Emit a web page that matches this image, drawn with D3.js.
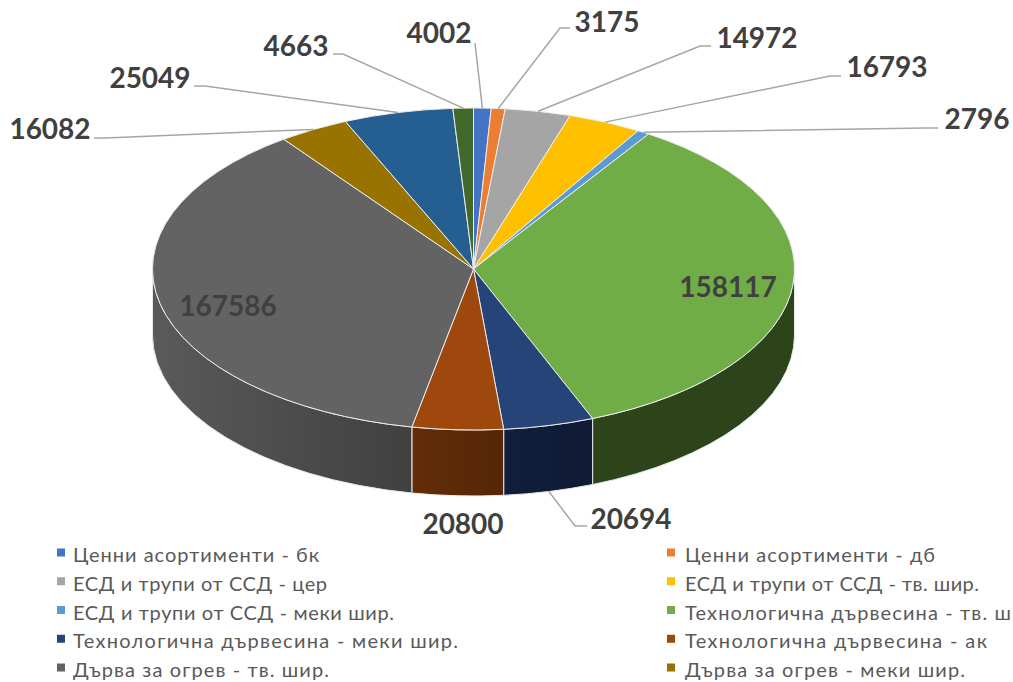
<!DOCTYPE html>
<html>
<head>
<meta charset="utf-8">
<script src="https://cdn.jsdelivr.net/npm/d3@7"></script>
<style>
html, body { margin: 0; padding: 0; background: #fff; overflow: hidden; }
text { font-family: Lato, "Open Sans", sans-serif; }
</style>
</head>
<body>
<div id="chart"></div>
<script>
// values in clockwise order starting from 12 o'clock
var values = [4002, 3175, 14972, 16793, 2796, 158117, 20694, 20800, 167586, 16082, 25049, 4663];

var legendNames = [
	"Ценни асортименти - бк", "Ценни асортименти - дб",
	"ЕСД и трупи от ССД - цер", "ЕСД и трупи от ССД - тв. шир.",
	"ЕСД и трупи от ССД - меки шир.", "Технологична дървесина - тв. ш",
	"Технологична дървесина - меки шир.", "Технологична дървесина - ак",
	"Дърва за огрев - тв. шир.", "Дърва за огрев - меки шир."
];

var topColors = ["#4472C4", "#ED7D31", "#A5A5A5", "#FFC000", "#5B9BD5", "#70AD47",
	"#264478", "#9E480E", "#636363", "#997300", "#255E91", "#43682B"];

// side wall colours, left and right end of the gradient
var sideColors = [
	["#2a4578", "#2a4578"], ["#8a4a1c", "#8a4a1c"], ["#636363", "#636363"], ["#957000", "#957000"],
	["#365d80", "#365d80"], ["#2d451a", "#2d431a"], ["#101f3c", "#0f1a34"], ["#622d08", "#562606"],
	["#5a5a5a", "#404040"], ["#5c4500", "#5c4500"], ["#163955", "#163955"], ["#283f1a", "#283f1a"]
];

// label placement: text centre, then the elbow and end of the leader line
var labelLayout = [
	{x: 439, y: 33, end: [475, 43]},
	{x: 607, y: 22, elbow: [560, 28], end: [570, 28]},
	{x: 757, y: 38, elbow: [700, 46], end: [711, 46]},
	{x: 887, y: 67, elbow: [830, 76], end: [841, 76]},
	{x: 977, y: 119, elbow: [925, 128], end: [938, 128]},
	{x: 728, y: 287},
	{x: 631, y: 519, elbow: [575, 526], end: [587, 526], wall: true},
	{x: 463, y: 524},
	{x: 228, y: 306},
	{x: 50, y: 129, elbow: [105, 138], end: [94, 138]},
	{x: 150, y: 78, elbow: [205, 86], end: [194, 86]},
	{x: 296, y: 46, elbow: [343, 54], end: [333, 54]}
];

// legend text is spaced out to these pixel widths
var legendWidths = [246, 250, 254, 294, 321, 326, 385, 302, 256, 280];

var cfg = {
	w: 1013, h: 682,
	cx: 473.5, cy: 269,
	rx: 321, ry: 161,
	depth: 66,
	labelSize: 28,
	legendSize: 20
};
var tilt = cfg.ry / cfg.rx;

var svg = d3.select("#chart").append("svg")
	.attr("width", cfg.w)
	.attr("height", cfg.h);

var defs = svg.append("defs");

var pie = d3.pie().sort(null).value(function(d) { return d; }).startAngle(0).endAngle(Math.PI * 2);
var slices = pie(values);

var arc = d3.arc().innerRadius(0).outerRadius(cfg.rx);

// pie is drawn as a circle and squashed into an ellipse
var g = svg.append("g")
	.attr("transform", "translate(" + cfg.cx + "," + cfg.cy + ") scale(1," + tilt + ")");

//Side walls, only the front half of the disc shows
function wallPath(d) {
	var a0 = Math.max(d.startAngle, Math.PI / 2) - Math.PI / 2;
	var a1 = Math.min(d.endAngle, Math.PI * 1.5) - Math.PI / 2;
	if (a1 <= a0) return null;
	var dy = cfg.depth / tilt;
	var p = d3.path();
	p.arc(0, 0, cfg.rx, a0, a1);
	p.lineTo(cfg.rx * Math.cos(a1), cfg.rx * Math.sin(a1) + dy);
	p.arc(0, dy, cfg.rx, a1, a0, true);
	p.closePath();
	return p.toString();
}

slices.forEach(function(d, i) {
	var grad = defs.append("linearGradient").attr("id", "wall" + i);
	grad.append("stop").attr("offset", "0%").attr("stop-color", sideColors[i][0]);
	grad.append("stop").attr("offset", "100%").attr("stop-color", sideColors[i][1]);
});

g.selectAll(".wall")
	.data(slices.filter(function(d) { return wallPath(d) !== null; }))
	.enter().append("path")
	.attr("class", "wall")
	.attr("d", wallPath)
	.attr("fill", function(d) { return "url(#wall" + d.index + ")"; })
	.attr("stroke", "#e8e8e8")
	.attr("stroke-width", 1)
	.attr("vector-effect", "non-scaling-stroke");

g.selectAll(".slice")
	.data(slices)
	.enter().append("path")
	.attr("class", "slice")
	.attr("d", arc)
	.attr("fill", function(d, i) { return topColors[i]; })
	.attr("stroke", "#ececec")
	.attr("stroke-width", 1)
	.attr("vector-effect", "non-scaling-stroke");

//Leader lines start from the rim at each slice's middle angle
function rimPoint(d, wall) {
	var a = (d.startAngle + d.endAngle) / 2;
	return [
		cfg.cx + cfg.rx * Math.sin(a),
		cfg.cy - cfg.ry * Math.cos(a) + (wall ? cfg.depth : 0)
	];
}

var line = d3.line();

svg.selectAll(".leader")
	.data(slices.filter(function(d) { return labelLayout[d.index].end; }))
	.enter().append("path")
	.attr("class", "leader")
	.attr("d", function(d) {
		var l = labelLayout[d.index];
		var pts = [rimPoint(d, l.wall)];
		if (l.elbow) pts.push(l.elbow);
		pts.push(l.end);
		return line(pts);
	})
	.attr("fill", "none")
	.attr("stroke", "#a6a6a6")
	.attr("stroke-width", 1.5);

svg.selectAll(".value")
	.data(slices)
	.enter().append("text")
	.attr("class", "value")
	.attr("x", function(d) { return labelLayout[d.index].x; })
	.attr("y", function(d) { return labelLayout[d.index].y; })
	.attr("dy", "0.36em")
	.attr("text-anchor", "middle")
	.style("font-size", cfg.labelSize + "px")
	.style("font-weight", 700)
	.attr("fill", "#404040")
	.text(function(d) { return d.data; });

//Legend, two columns reading left to right
var markerX = d3.scalePoint().domain([0, 1]).range([57, 667]);
var textX = d3.scalePoint().domain([0, 1]).range([73, 685]);
var legendY = d3.scalePoint().domain([0, 1, 2, 3, 4]).range([555, 670]);

var legend = svg.selectAll(".legendItem")
	.data(legendNames)
	.enter().append("g")
	.attr("class", "legendItem")
	.attr("transform", function(d, i) {
		return "translate(0," + legendY(Math.floor(i / 2)) + ")";
	});

legend.append("rect")
	.attr("x", function(d, i) { return markerX(i % 2); })
	.attr("y", -6.5)
	.attr("width", 8)
	.attr("height", 8)
	.attr("fill", function(d, i) { return topColors[i]; });

legend.append("text")
	.attr("x", function(d, i) { return textX(i % 2); })
	.attr("dy", "0.35em")
	.attr("textLength", function(d, i) { return legendWidths[i]; })
	.attr("lengthAdjust", "spacing")
	.style("font-size", cfg.legendSize + "px")
	.attr("fill", "#595959")
	.text(function(d) { return d; });
</script>
</body>
</html>
